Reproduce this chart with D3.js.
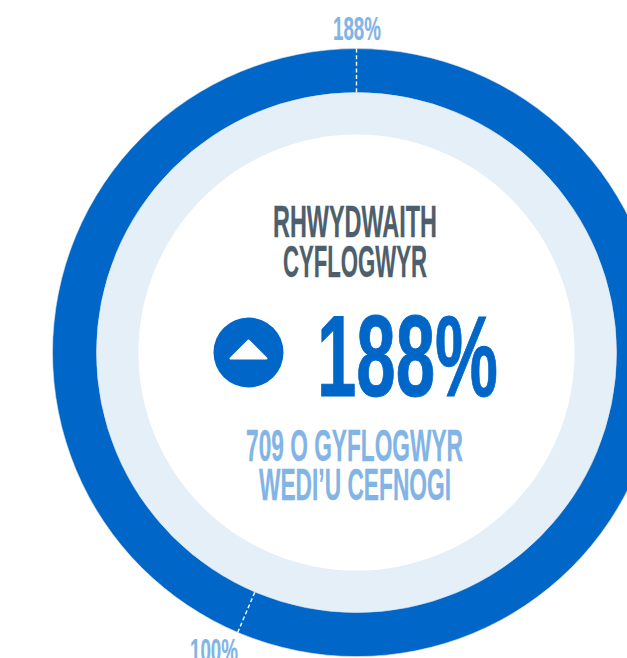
<!DOCTYPE html>
<html>
<head>
<meta charset="utf-8">
<script src="https://cdn.jsdelivr.net/npm/d3@7"></script>
<style>
  html, body { margin: 0; padding: 0; background: #fff; overflow: hidden; }
  text { font-family: "Liberation Sans Narrow", "Liberation Sans", sans-serif; font-weight: 700; }
</style>
</head>
<body>
<div id="chart"></div>
<script>
// values
var gaugeValue = [188];
var tickValues = [188, 100];
var tickLabels = ["188%", "100%"];
var titleLines = ["RHWYDWAITH", "CYFLOGWYR"];
var bigLabel = "188%";
var noteLines = ["709 O GYFLOGWYR", "WEDI\u2019U CEFNOGI"];

var svgWidth = 627,
    svgHeight = 658,
    cx = 356.5,
    cy = 352.6,
    rOuter = 304,
    rMid = 260,
    rInner = 218;

var blue = "#0066c8",
    lightBlue = "#82b4e5",
    pale = "#e5eff8",
    slate = "#4d5f6c";

var svg = d3.select("#chart")
    .append("svg")
    .attr("width", svgWidth)
    .attr("height", svgHeight)
    .style("display", "block");

var g = svg.append("g").attr("transform", `translate(${cx},${cy})`);

// the dial is not even: 100% sits at about 203 degrees
var angle = d3.scaleLinear().domain([0, 100, 188]).range([0, 203 * Math.PI / 180, 2 * Math.PI]);

var arc = d3.arc();

// pale inner ring
g.append("path")
    .attr("fill", pale)
    .attr("d", arc({innerRadius: rInner, outerRadius: rMid, startAngle: 0, endAngle: 2 * Math.PI}));

// value ring
g.selectAll(".value")
    .data(gaugeValue)
    .enter()
    .append("path")
    .attr("class", "value")
    .attr("fill", blue)
    .attr("stroke", "#e4e8ec")
    .attr("stroke-width", 0.6)
    .attr("d", d => arc({innerRadius: rMid, outerRadius: rOuter, startAngle: 0, endAngle: angle(d)}));

// dashed ticks across the ring
g.selectAll(".tick")
    .data(tickValues)
    .enter()
    .append("line")
    .attr("class", "tick")
    .attr("stroke", "#fff")
    .attr("stroke-width", 1.4)
    .attr("stroke-dasharray", "4,2.6")
    .attr("x1", d => Math.sin(angle(d)) * rOuter)
    .attr("y1", d => -Math.cos(angle(d)) * rOuter)
    .attr("x2", d => Math.sin(angle(d)) * rMid)
    .attr("y2", d => -Math.cos(angle(d)) * rMid);

// fit a line of text to a measured box, a thin stroke makes up for the lighter font
function fitted(str, x0, x1, baseline, size, fill, weight) {
    return svg.append("text")
        .attr("x", x0)
        .attr("y", baseline)
        .attr("font-size", size)
        .attr("fill", fill)
        .attr("stroke", fill)
        .attr("stroke-width", weight)
        .attr("textLength", x1 - x0)
        .attr("lengthAdjust", "spacingAndGlyphs")
        .text(str);
}

fitted(tickLabels[0], 333, 381, 39.5, 33, lightBlue, 0.2);
fitted(tickLabels[1], 190, 238, 662, 33, lightBlue, 0.2);

fitted(titleLines[0], 273, 437, 237, 44, slate, 0.3);
fitted(titleLines[1], 283, 427, 276.5, 44, slate, 0.3);

fitted(bigLabel, 317, 498, 396, 115, blue, 1);

fitted(noteLines[0], 246, 463, 460.5, 44, lightBlue, 0.3);
fitted(noteLines[1], 259, 451, 499.5, 44, lightBlue, 0.3);

// up arrow badge
svg.append("circle")
    .attr("cx", 248.5)
    .attr("cy", 352.5)
    .attr("r", 35)
    .attr("fill", blue);

svg.append("path")
    .attr("d", d3.line()([[230.5, 358.5], [266.5, 358.5], [248.5, 340.5]]) + "Z")
    .attr("fill", "#fff")
    .attr("stroke", "#fff")
    .attr("stroke-width", 2)
    .attr("stroke-linejoin", "round");
</script>
</body>
</html>
